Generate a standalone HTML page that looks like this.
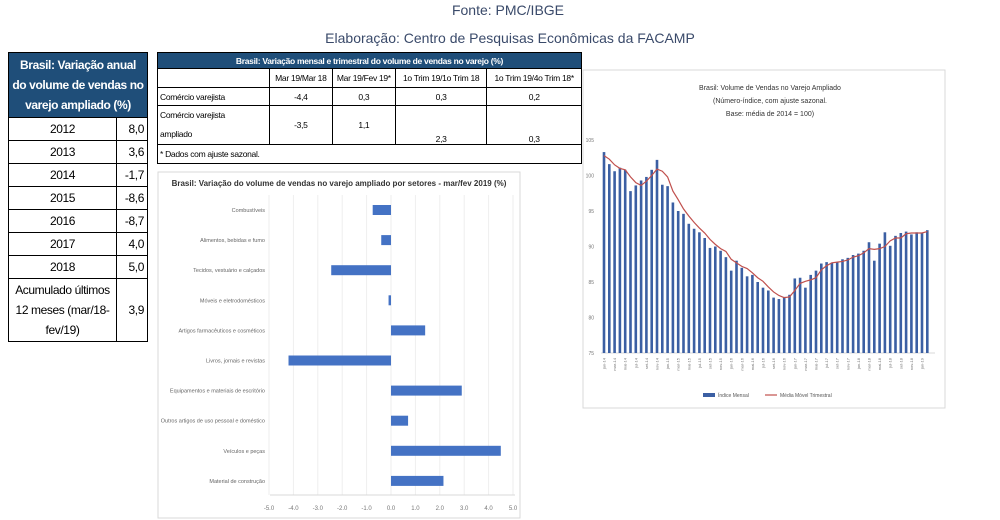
<!DOCTYPE html>
<html><head><meta charset="utf-8">
<style>
body{margin:0;width:1000px;height:520px;background:#fff;font-family:"Liberation Sans",sans-serif;position:relative;overflow:hidden}
.abs{position:absolute}
table{border-collapse:collapse}
#lt{left:8px;top:52px;width:140px;font-size:12px;letter-spacing:-0.4px}
#lt td{border:1px solid #000;height:22px;padding:0 3px}
#tt{left:157px;top:52px;width:425px;font-size:8.5px;letter-spacing:-0.3px;table-layout:fixed}
#tt td{border:1px solid #000;padding:0 2px;white-space:nowrap;overflow:hidden}
.hd{background:#1f4e79;color:#fff;font-weight:bold;text-align:center}
</style></head><body>
<div class="abs" style="left:0;width:1016px;top:2px;text-align:center;font-size:14px;color:#3a4a6a">Fonte: PMC/IBGE</div>
<div class="abs" style="left:0;width:1020px;top:30px;text-align:center;font-size:14px;color:#3a4a6a">Elaboração: Centro de Pesquisas Econômicas da FACAMP</div>

<table id="lt" class="abs">
<tr><td colspan="2" class="hd" style="height:64px;font-size:12px;line-height:20px">Brasil: Variação anual do volume de vendas no varejo ampliado (%)</td></tr>
<tr><td style="text-align:center">2012</td><td style="text-align:right;width:24px">8,0</td></tr>
<tr><td style="text-align:center">2013</td><td style="text-align:right">3,6</td></tr>
<tr><td style="text-align:center">2014</td><td style="text-align:right">-1,7</td></tr>
<tr><td style="text-align:center">2015</td><td style="text-align:right">-8,6</td></tr>
<tr><td style="text-align:center">2016</td><td style="text-align:right">-8,7</td></tr>
<tr><td style="text-align:center">2017</td><td style="text-align:right">4,0</td></tr>
<tr><td style="text-align:center">2018</td><td style="text-align:right">5,0</td></tr>
<tr><td style="height:62px;text-align:center;line-height:20px">Acumulado últimos 12 meses (mar/18-fev/19)</td><td style="text-align:right">3,9</td></tr>
</table>

<table id="tt" class="abs">
<colgroup><col style="width:110px"><col style="width:62px"><col style="width:62px"><col style="width:90px"><col style="width:93px"></colgroup>
<tr><td colspan="5" class="hd" style="height:15px">Brasil: Variação mensal e trimestral do volume de vendas no varejo (%)</td></tr>
<tr style="height:19px;text-align:center"><td></td><td>Mar 19/Mar 18</td><td>Mar 19/Fev 19*</td><td>1o Trim 19/1o Trim 18</td><td>1o Trim 19/4o Trim 18*</td></tr>
<tr style="height:18px;text-align:center"><td style="text-align:left">Comércio varejista</td><td>-4,4</td><td>0,3</td><td>0,3</td><td>0,2</td></tr>
<tr style="height:38px;text-align:center"><td style="text-align:left;line-height:19px">Comércio varejista<br>ampliado</td><td>-3,5</td><td>1,1</td><td style="vertical-align:bottom">2,3</td><td style="vertical-align:bottom">0,3</td></tr>
<tr style="height:19px"><td colspan="5">* Dados com ajuste sazonal.</td></tr>
</table>

<svg class="abs" style="left:0;top:0" width="1000" height="520" id="svg">
<rect x="158" y="172" width="362" height="346" fill="#fff" stroke="#d9d9d9"/>
<text x="339" y="186" font-size="8" text-anchor="middle" fill="#333" font-weight="bold">Brasil: Variação do volume de vendas no varejo ampliado por setores - mar/fev 2019 (%)</text>
<g id="bars"></g>
<rect x="583" y="70" width="362" height="338" fill="#fff" stroke="#d9d9d9"/>
<text x="770" y="90" font-size="7" text-anchor="middle" fill="#333">Brasil: Volume de Vendas no Varejo Ampliado</text>
<text x="770" y="103" font-size="7" text-anchor="middle" fill="#333">(Número-índice, com ajuste sazonal.</text>
<text x="770" y="116" font-size="7" text-anchor="middle" fill="#333">Base: média de 2014 = 100)</text>
<g id="idx"></g>
<rect x="703" y="393" width="12" height="4" fill="#3b5fa3"/>
<text x="718" y="397" font-size="5" fill="#555">Índice Mensal</text>
<line x1="765" y1="395" x2="777" y2="395" stroke="#c0504d" stroke-width="1.2"/>
<text x="780" y="397" font-size="5" fill="#555">Média Móvel Trimestral</text>
</svg>

<script>
const NS="http://www.w3.org/2000/svg";
const sectors=["Combustíveis","Alimentos, bebidas e fumo","Tecidos, vestuário e calçados","Móveis e eletrodomésticos","Artigos farmacêuticos e cosméticos","Livros, jornais e revistas","Equipamentos e materiais de escritório","Outros artigos de uso pessoal e doméstico","Veículos e peças","Material de construção"];
const sectorValues=[-0.75,-0.4,-2.45,-0.1,1.4,-4.2,2.9,0.7,4.5,2.15];
const xTicks=[-5,-4,-3,-2,-1,0,1,2,3,4,5];
const monthly=[103.3,101.6,100.6,101.1,100.8,97.8,98.6,99.3,99.8,100.8,102.2,98.7,98.5,96.2,95.0,94.6,93.2,92.5,92.0,91.2,89.8,90.0,89.4,88.5,86.6,88.0,87.0,85.8,86.0,85.0,84.2,83.8,82.8,82.6,82.9,83.2,85.5,85.6,84.2,86.0,86.6,87.6,87.8,87.7,87.8,88.2,88.4,88.8,89.0,89.4,90.6,88.0,90.4,92.0,90.1,91.5,91.9,92.1,91.7,92.0,91.9,92.3];
const movingAvg=[102.8,102.3,101.5,101.0,100.8,99.8,99.0,98.6,99.2,100.0,100.9,100.6,99.8,97.8,96.6,95.3,94.3,93.4,92.6,91.9,91.0,90.3,89.7,89.3,88.2,87.7,87.2,86.9,86.3,85.6,85.1,84.3,83.6,83.1,82.8,82.9,83.8,84.8,85.1,85.3,85.6,86.7,87.3,87.7,87.8,87.9,88.1,88.5,88.7,89.1,89.7,89.6,89.7,90.0,90.8,91.2,91.2,91.8,91.9,91.9,91.9,92.1];
const yTicks=[75,80,85,90,95,100,105];
const monthNames=["jan","fev","mar","abr","mai","jun","jul","ago","set","out","nov","dez"];

function mk(tag,attrs,parent,txt){const e=document.createElementNS(NS,tag);for(const k in attrs)e.setAttribute(k,attrs[k]);if(txt!==undefined)e.textContent=txt;parent.appendChild(e);return e;}

const g=document.getElementById('bars');
const sx=v=>391+v*24.4;
const sy=i=>210+i*30.1;
xTicks.forEach(t=>{
  const l=mk('line',{x1:sx(t),x2:sx(t),y1:195,y2:495,stroke:'#eeeeee'},g);
  
  
  const tx=mk('text',{x:sx(t),y:510,'font-size':6,'text-anchor':'middle',fill:'#777'},g,t.toFixed(1));
  
  
});
mk('line',{x1:270,x2:515,y1:495,y2:495,stroke:'#d9d9d9'},g);
sectors.forEach((s,i)=>{
  const v=sectorValues[i];
  const r=mk('rect',{x:Math.min(sx(0),sx(v)),y:sy(i)-5,width:Math.max(1.5,Math.abs(sx(v)-sx(0))),height:10,fill:'#4472c4'},g);
  
  
  const t=mk('text',{x:265,y:sy(i)+2,'font-size':5.5,'text-anchor':'end',fill:'#666'},g,s);
  
  
});

const h=document.getElementById('idx');
const iy=v=>353-(v-75)*7.1;
const ix=i=>604+i*5.3;
yTicks.forEach(t=>{
  const tx=mk('text',{x:594,y:iy(t)+2,'font-size':5,'text-anchor':'end',fill:'#777'},h,t);
  
  
});
mk('line',{x1:601,x2:935,y1:iy(75),y2:iy(75),stroke:'#d9d9d9'},h);
monthly.forEach((v,i)=>{
  const r=mk('rect',{x:ix(i)-1.3,y:iy(v),width:2.6,height:iy(75)-iy(v),fill:'#3b5fa3'},h);
  
  
  if(i%2===0){
    const lab=monthNames[i%12]+'-'+(14+Math.floor(i/12));
    const t=mk('text',{x:0,y:0,'font-size':4,'text-anchor':'end',fill:'#777',transform:`translate(${ix(i)+1.5},358) rotate(-90)`},h,lab);
    
    
  }
});
const p=mk('polyline',{points:movingAvg.map((v,i)=>ix(i)+','+iy(v)).join(' '),fill:'none',stroke:'#c0504d','stroke-width':1.2},h);


</script>
</body></html>
